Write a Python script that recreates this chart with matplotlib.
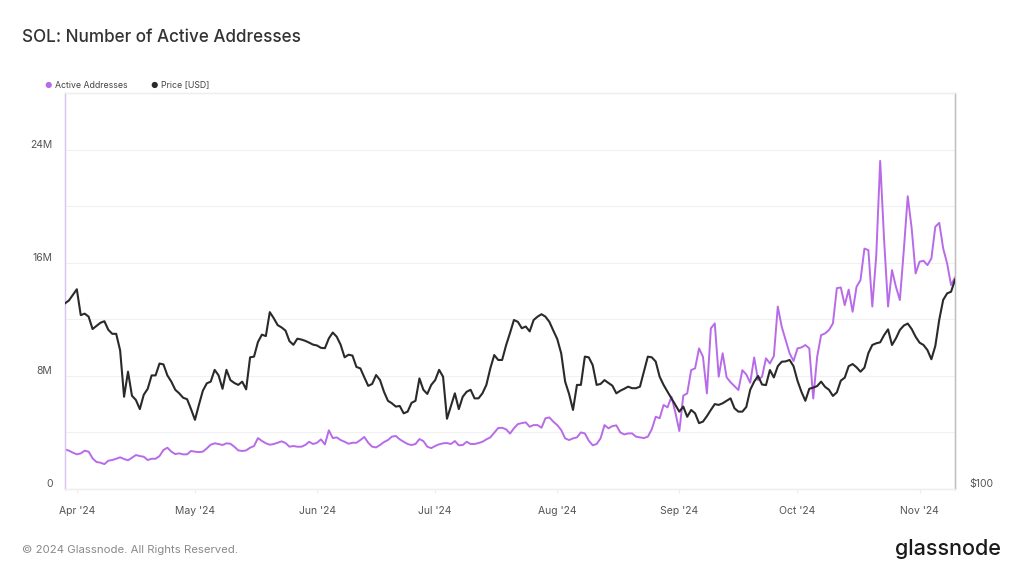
import numpy as np
import pandas as pd
import matplotlib.pyplot as plt
import matplotlib.dates as mdates
from matplotlib.ticker import FixedLocator, FuncFormatter, NullLocator
from matplotlib.transforms import ScaledTranslation

plt.rcParams['font.family'] = ['Inter', 'DejaVu Sans']

dates = pd.date_range('2024-03-29', periods=227, freq='D')

# active addresses, millions
active_m = [
    2.80, 2.71, 2.57, 2.45, 2.52, 2.71, 2.64, 2.17, 1.91, 1.86,
    1.76, 2.00, 2.05, 2.14, 2.24, 2.12, 2.03, 2.21, 2.40, 2.33,
    2.28, 2.05, 2.14, 2.14, 2.33, 2.76, 2.92, 2.64, 2.47, 2.52,
    2.45, 2.45, 2.69, 2.64, 2.61, 2.64, 2.87, 3.13, 3.23, 3.18,
    3.11, 3.23, 3.20, 2.99, 2.73, 2.69, 2.73, 2.92, 3.04, 3.60,
    3.40, 3.23, 3.13, 3.18, 3.27, 3.37, 3.25, 2.99, 3.04, 2.99,
    2.99, 3.11, 3.34, 3.18, 3.27, 3.51, 3.15, 4.15, 3.60, 3.65,
    3.46, 3.34, 3.20, 3.27, 3.27, 3.46, 3.68, 3.27, 2.99, 2.94,
    3.11, 3.32, 3.46, 3.70, 3.75, 3.51, 3.34, 3.18, 3.11, 3.18,
    3.53, 3.39, 2.99, 2.89, 3.04, 3.16, 3.23, 3.25, 3.18, 3.39,
    3.09, 3.11, 3.34, 3.18, 3.18, 3.25, 3.34, 3.51, 3.65, 3.98,
    4.31, 4.33, 4.22, 3.92, 4.29, 4.59, 4.66, 4.71, 4.40, 4.52,
    4.52, 4.33, 5.00, 5.06, 4.76, 4.52, 4.17, 3.58, 3.46, 3.58,
    3.65, 4.00, 3.93, 3.42, 3.09, 3.18, 3.58, 4.52, 4.29, 4.45,
    4.50, 4.00, 3.86, 3.93, 3.93, 3.70, 3.65, 3.60, 3.70, 4.22,
    5.11, 5.00, 5.94, 5.77, 6.52, 5.40, 4.10, 6.60, 6.76, 8.41,
    8.53, 9.94, 9.35, 6.76, 11.36, 11.71, 7.94, 9.60, 7.90, 7.55,
    7.28, 7.00, 8.40, 8.10, 7.51, 9.30, 7.70, 7.94, 9.24, 8.88,
    9.40, 12.90, 11.47, 10.53, 9.59, 9.05, 9.94, 10.01, 10.18, 9.94,
    6.40, 9.35, 10.88, 11.00, 11.24, 11.71, 14.20, 14.25, 13.00, 14.10,
    12.53, 14.30, 14.77, 17.00, 16.89, 12.90, 16.50, 23.20, 17.60, 12.90,
    15.48, 14.30, 13.36, 16.89, 20.70, 18.42, 15.24, 16.07, 16.14, 15.83,
    16.30, 18.54, 18.82, 17.01, 15.95, 14.42, 14.96,
]

# SOL price, USD
price = [
    194, 196, 200, 204, 186, 187, 185, 177, 179, 181,
    182, 176.5, 174, 174, 164, 139, 152, 139.5, 137.4, 133,
    140, 143, 150, 150, 156.5, 156, 150, 146.7, 142.5, 140.7,
    138.5, 137.8, 133, 128, 135, 142, 145.8, 146.7, 153, 150,
    143, 153, 147.5, 146, 145, 146.7, 142.7, 160, 160.4, 169,
    173.5, 172.6, 188, 184, 179.5, 178, 176, 169.5, 167.3, 171,
    170.5, 169.7, 168.6, 167.4, 166.9, 165.5, 165.3, 171.2, 174.8, 172.2,
    167.3, 160, 161.5, 161, 154.6, 153.8, 149, 144.5, 145.5, 150.2,
    147.5, 141.5, 137, 135.8, 134.2, 134.5, 131, 131.8, 136, 137,
    148.4, 142.5, 140.4, 145, 147.5, 153, 149.3, 128.5, 134.5, 140.7,
    133, 139, 141.5, 142.5, 138.2, 138.2, 140.7, 145, 153.8, 161.3,
    158.5, 158.5, 167, 174.5, 182.8, 181.6, 177.5, 178.6, 175.5, 182.8,
    185, 186.6, 185, 181.6, 176, 170.8, 162.3, 146.7, 140.4, 132.6,
    145, 145, 160.4, 160, 155.6, 145, 145.5, 147.5, 146, 144.6,
    140.7, 142, 143, 144.1, 143.3, 143.3, 144.1, 152, 160.4, 160,
    157.6, 149.3, 145, 141.5, 138.2, 134.9, 131.8, 134.2, 129.4, 132.6,
    131, 126.5, 127.2, 129.7, 132.6, 135.4, 135, 135.8, 137, 138.2,
    133.4, 131.8, 131.8, 134, 142.5, 146.7, 149.7, 145.2, 144.9, 152.9,
    148.9, 155, 157.5, 157.7, 158.5, 155, 147.2, 141.5, 137, 143,
    143.6, 144.4, 146.7, 144, 142.5, 139.4, 141.2, 147.2, 148.8, 155,
    156.2, 154.4, 152, 154.2, 162.4, 167.2, 168.2, 168.8, 173.2, 176.8,
    167.2, 171.2, 176.4, 179.2, 180.5, 177, 172.2, 168.6, 167.2, 164.2,
    158.9, 166.6, 183, 196.4, 201, 202.2, 211,
]

month_ticks = pd.date_range('2024-04-01', '2024-11-01', freq='MS')
left_ticks = [0, 8e6, 16e6, 24e6]

fig = plt.figure(figsize=(10.24, 5.76), dpi=100)
ax = fig.add_axes([65 / 1024, 87 / 576, 890 / 1024, 396 / 576])
ax2 = ax.twinx()

ax.plot(dates, np.array(active_m) * 1e6, color='#b86be8', lw=1.4, zorder=2)
ax2.plot(dates, price, color='#2a2a2a', lw=1.5, zorder=3)

ax.set_xlim(dates[0], dates[-1])
ax.set_ylim(0, 28e6)
ax2.set_yscale('log')
ax2.set_ylim(100, 411)

# grid every 4M, labels every 8M
ax.yaxis.set_major_locator(FixedLocator(left_ticks))
ax.yaxis.set_minor_locator(FixedLocator(np.arange(4e6, 28e6, 8e6)))
ax.yaxis.set_major_formatter(FuncFormatter(lambda v, p: '0' if v == 0 else f'{v/1e6:.0f}M'))
ax.grid(axis='y', which='both', color='#f1f1f1', lw=0.8)
ax.tick_params(axis='y', which='both', length=0, labelsize=7.5, labelcolor='#555555', pad=9)
off = ScaledTranslation(0, 4 / 72, fig.dpi_scale_trans)
for lab in ax.get_yticklabels():
    lab.set_transform(lab.get_transform() + off)

ax.xaxis.set_major_locator(FixedLocator(mdates.date2num(month_ticks)))
ax.xaxis.set_major_formatter(mdates.DateFormatter("%b '%y"))
ax.tick_params(axis='x', length=3, color='#eeeeee', labelsize=7.5, labelcolor='#555555', pad=9)

ax2.yaxis.set_major_locator(FixedLocator([100]))
ax2.yaxis.set_minor_locator(NullLocator())
ax2.yaxis.set_major_formatter(FuncFormatter(lambda v, p: f'${v:.0f}'))
ax2.tick_params(axis='y', length=0, labelsize=7.5, labelcolor='#555555', pad=10)
for lab in ax2.get_yticklabels():
    lab.set_transform(lab.get_transform() + off)

for a in (ax, ax2):
    a.spines['top'].set_color('#eeeeee')
    a.spines['bottom'].set_color('#eeeeee')
    a.spines['left'].set_color('#dcc4f2')
    a.spines['right'].set_color('#bdbdbd')
    for s in a.spines.values():
        s.set_linewidth(0.9)

fig.text(22 / 1024, 1 - 37 / 576, 'SOL: Number of Active Addresses', fontsize=12.3,
         color='#333333', va='center', ha='left', fontweight='medium')

# legend
fig.text(48 / 1024, 1 - 85 / 576, '\u25cf', fontsize=6, color='#b86be8', va='center', ha='center')
fig.text(55 / 1024, 1 - 85 / 576, 'Active Addresses', fontsize=6.3, color='#444444', va='center')
fig.text(154 / 1024, 1 - 85 / 576, '\u25cf', fontsize=6, color='#2a2a2a', va='center', ha='center')
fig.text(161 / 1024, 1 - 85 / 576, 'Price [USD]', fontsize=6.3, color='#444444', va='center')

fig.text(22 / 1024, 1 - 550 / 576, '\u00a9 2024 Glassnode. All Rights Reserved.', fontsize=8.2,
         color='#8a8a8a', va='center')
fig.text(1001 / 1024, 1 - 549 / 576, 'glassnode', fontsize=15.5, color='#1a1a1a',
         va='center', ha='right', fontweight='medium')

fig.savefig('out.png', dpi=100, facecolor='white')
